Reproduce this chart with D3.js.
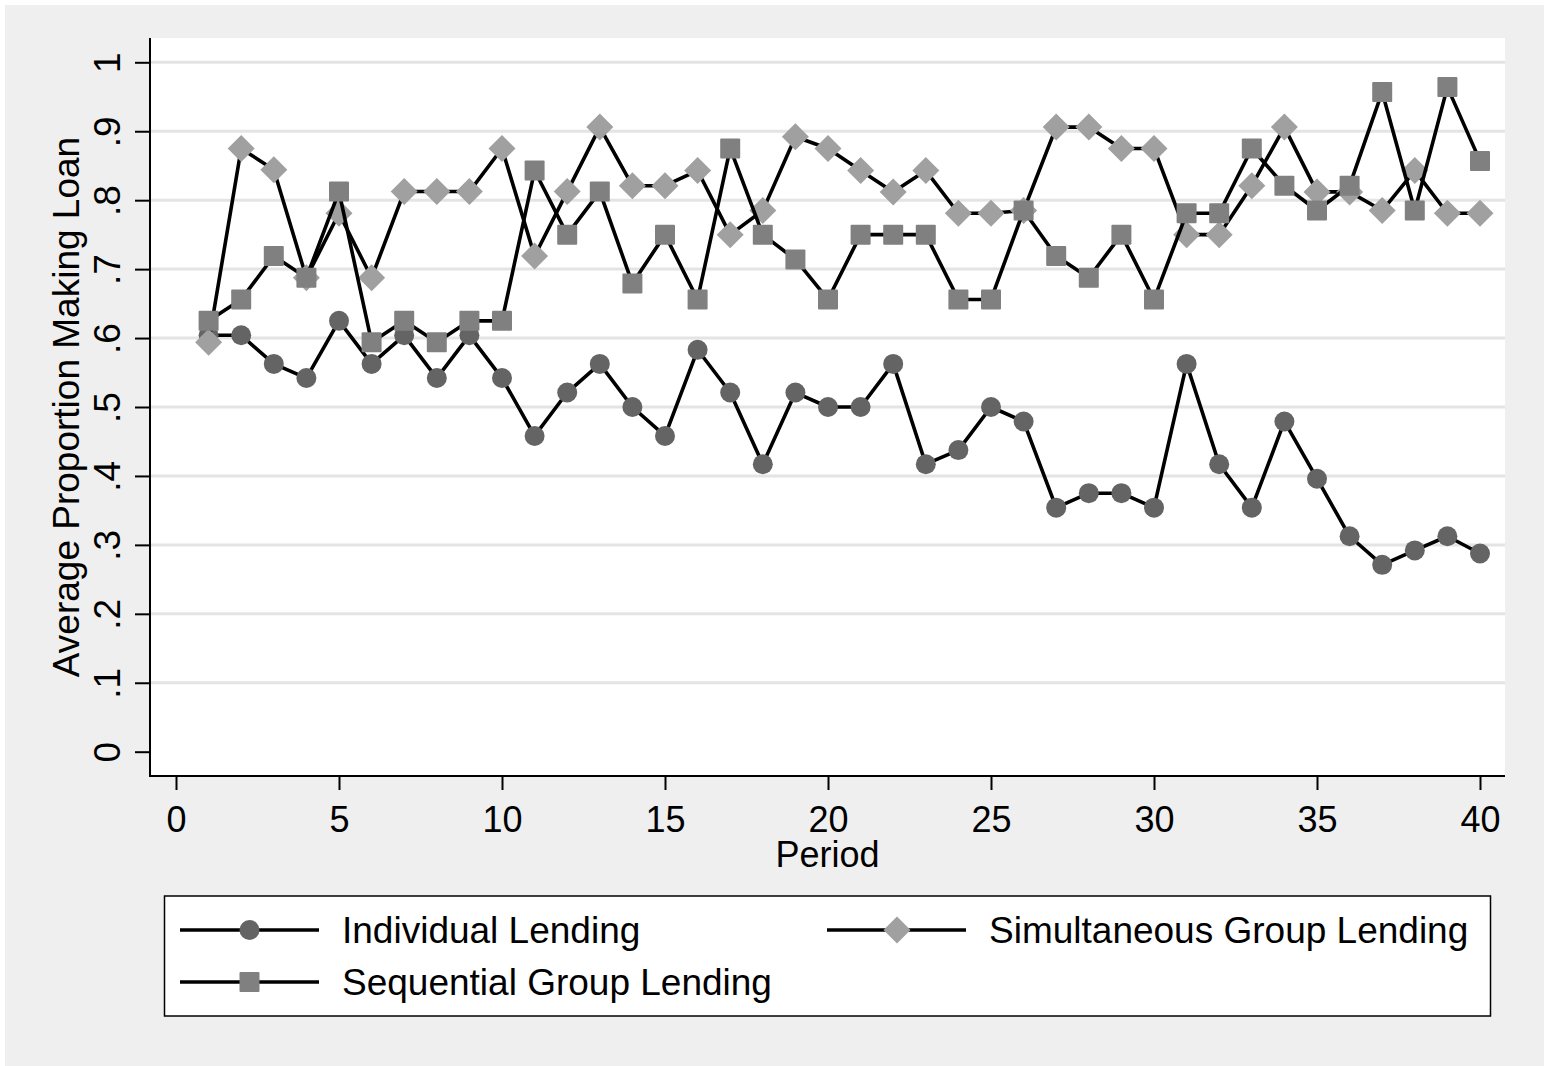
<!DOCTYPE html>
<html>
<head>
<meta charset="utf-8">
<script src="https://cdn.jsdelivr.net/npm/d3@7"></script>
<style>
  html, body { margin: 0; padding: 0; background: #ffffff; }
  svg { display: block; }
  text { font-family: "Liberation Sans", Arial, Helvetica, sans-serif; fill: #000; }
</style>
</head>
<body>
<svg id="chart" width="1544" height="1066"></svg>
<script>
const periods = [1,2,3,4,5,6,7,8,9,10,11,12,13,14,15,16,17,18,19,20,21,22,23,24,25,26,27,28,29,30,31,32,33,34,35,36,37,38,39,40];

const individual = [0.604,0.604,0.5625,0.542,0.625,0.5625,0.604,0.542,0.604,0.542,
                    0.458,0.521,0.5625,0.5,0.458,0.583,0.521,0.417,0.521,0.5,
                    0.5,0.5625,0.417,0.4375,0.5,0.479,0.354,0.375,0.375,0.354,
                    0.5625,0.417,0.354,0.479,0.396,0.3125,0.271,0.292,0.3125,0.2875];

const simultaneous = [0.594,0.875,0.844,0.6875,0.781,0.6875,0.8125,0.8125,0.8125,0.875,
                      0.719,0.8125,0.906,0.821,0.821,0.843,0.75,0.785,0.892,0.875,
                      0.843,0.812,0.843,0.781,0.781,0.785,0.906,0.906,0.875,0.875,
                      0.75,0.75,0.821,0.906,0.812,0.812,0.785,0.843,0.781,0.781];

const sequential = [0.625,0.656,0.719,0.6875,0.8125,0.594,0.625,0.594,0.625,0.625,
                    0.843,0.75,0.8125,0.679,0.75,0.656,0.875,0.75,0.714,0.656,
                    0.75,0.75,0.75,0.656,0.656,0.785,0.719,0.6875,0.75,0.656,
                    0.781,0.781,0.875,0.821,0.785,0.821,0.957,0.785,0.964,0.857];

const seriesNames = ["Individual Lending", "Simultaneous Group Lending", "Sequential Group Lending"];
const xTicks = [0,5,10,15,20,25,30,35,40];
const yTicks = [0,0.1,0.2,0.3,0.4,0.5,0.6,0.7,0.8,0.9,1];
const yTickLabels = ["0",".1",".2",".3",".4",".5",".6",".7",".8",".9","1"];
const xTitle = "Period";
const yTitle = "Average Proportion Making Loan";

const svg = d3.select("#chart");
const W = 1544, H = 1066;
const plot = {left: 150, right: 1505, top: 38, bottom: 776};

// background
svg.append("rect").attr("x", 5).attr("y", 5).attr("width", W - 5).attr("height", H - 5).attr("fill", "#efefef");
svg.append("rect").attr("x", plot.left).attr("y", plot.top)
  .attr("width", plot.right - plot.left).attr("height", plot.bottom - plot.top).attr("fill", "#ffffff");

const x = d3.scaleLinear().domain([0, 40]).range([176, 1480]);
const y = d3.scaleLinear().domain([0, 1]).range([751.7, 62.3]);

// gridlines
svg.append("g").selectAll("line").data(yTicks.filter(d => d > 0)).join("line")
  .attr("x1", plot.left + 1).attr("x2", plot.right)
  .attr("y1", d => y(d)).attr("y2", d => y(d))
  .attr("stroke", "#e4e4e4").attr("stroke-width", 3);

// y axis
const yAxis = d3.axisLeft(y).tickValues(yTicks).tickSize(15)
  .tickFormat((d, i) => yTickLabels[i]);
const gy = svg.append("g").attr("transform", `translate(${plot.left},0)`).call(yAxis);
gy.select(".domain").remove();
gy.selectAll(".tick line").attr("stroke", "#000").attr("stroke-width", 2);
gy.selectAll(".tick text").remove();
gy.selectAll(".tick").append("text")
  .attr("transform", "translate(-30,0) rotate(-90)")
  .attr("text-anchor", "middle")
  .attr("font-size", 37)
  .attr("fill", "#000")
  .text((d, i) => yTickLabels[i]);
svg.append("line").attr("x1", plot.left).attr("x2", plot.left)
  .attr("y1", plot.top).attr("y2", plot.bottom + 1)
  .attr("stroke", "#000").attr("stroke-width", 2);

// x axis
const xAxis = d3.axisBottom(x).tickValues(xTicks).tickSize(14).tickFormat(d3.format("d"));
const gx = svg.append("g").attr("transform", `translate(0,${plot.bottom})`).call(xAxis);
gx.select(".domain").remove();
gx.selectAll(".tick line").attr("stroke", "#000").attr("stroke-width", 2);
gx.selectAll(".tick text").attr("font-size", 36).attr("fill", "#000")
  .attr("dy", null).attr("y", 56).attr("font-family", "Liberation Sans, Arial, sans-serif");
svg.append("line").attr("x1", plot.left - 1).attr("x2", plot.right)
  .attr("y1", plot.bottom).attr("y2", plot.bottom)
  .attr("stroke", "#000").attr("stroke-width", 2);

// axis titles
svg.append("text").attr("x", (plot.left + plot.right) / 2).attr("y", 867)
  .attr("text-anchor", "middle").attr("font-size", 36).text(xTitle);
svg.append("text")
  .attr("transform", `translate(79,${(plot.top + plot.bottom) / 2}) rotate(-90)`)
  .attr("text-anchor", "middle").attr("font-size", 37).text(yTitle);

// marker drawers
const markerColors = ["#646464", "#a0a0a0", "#808080"];
function drawMarker(g, type, cx, cy, color) {
  if (type === 0) {
    g.append("circle").attr("cx", cx).attr("cy", cy).attr("r", 10).attr("fill", color);
  } else if (type === 1) {
    const r = 13.5;
    g.append("path").attr("d", `M${cx},${cy - r}L${cx + r},${cy}L${cx},${cy + r}L${cx - r},${cy}Z`).attr("fill", color);
  } else {
    g.append("rect").attr("x", cx - 10).attr("y", cy - 10).attr("width", 20).attr("height", 20)
      .attr("rx", 1).attr("fill", color);
  }
}

const allSeries = [individual, simultaneous, sequential];
const line = d3.line().x((d, i) => x(periods[i])).y(d => y(d));

allSeries.forEach((vals, s) => {
  const g = svg.append("g");
  g.append("path").attr("d", line(vals)).attr("fill", "none")
    .attr("stroke", "#000").attr("stroke-width", 3.6).attr("stroke-linejoin", "round");
  vals.forEach((v, i) => drawMarker(g, s, x(periods[i]), y(v), markerColors[s]));
});

// legend
const leg = svg.append("g");
leg.append("rect").attr("x", 164.5).attr("y", 896).attr("width", 1490.5 - 164.5).attr("height", 120)
  .attr("fill", "#ffffff").attr("stroke", "#000").attr("stroke-width", 1.5);
const legItems = [
  {s: 0, lx1: 180, lx2: 319, mx: 249.5, tx: 342, cy: 930, ty: 943},
  {s: 1, lx1: 827, lx2: 966, mx: 897, tx: 989, cy: 930, ty: 943},
  {s: 2, lx1: 180, lx2: 319, mx: 249.5, tx: 342, cy: 982, ty: 995}
];
legItems.forEach(it => {
  leg.append("line").attr("x1", it.lx1).attr("x2", it.lx2).attr("y1", it.cy).attr("y2", it.cy)
    .attr("stroke", "#000").attr("stroke-width", 3.6);
  drawMarker(leg, it.s, it.mx, it.cy, markerColors[it.s]);
  leg.append("text").attr("x", it.tx).attr("y", it.ty).attr("font-size", 37).text(seriesNames[it.s]);
});
</script>
</body>
</html>
